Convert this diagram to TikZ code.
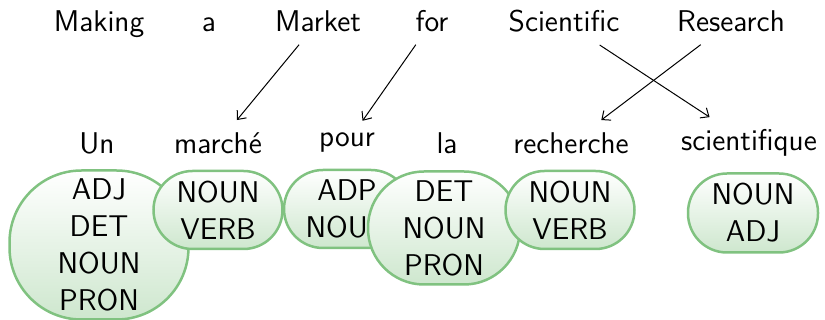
\documentclass[tikz,border=0pt]{standalone}
\usetikzlibrary{arrows.meta}
\definecolor{bubbleborder}{RGB}{128,194,128}
\definecolor{bubblefill}{RGB}{206,231,206}
\begin{document}
\begin{tikzpicture}[x=0.5pt,y=-0.5pt,
  txt/.style={font=\fontsize{15}{18.5}\selectfont\sffamily},
  word/.style={txt, inner sep=6pt},
  topword/.style={word, anchor=base},
  tag/.style={txt, draw=bubbleborder, line width=1.25pt, top color=white,
    bottom color=bubblefill, align=center, inner sep=0pt, rounded corners=#1},
  link/.style={-{Straight Barb[length=3.5pt,width=6pt]}, line width=0.5pt}
]
\useasboundingbox (0,0) rectangle (825,320);

% English words
\node[topword] (Making) at (99,32) {Making};
\node[topword] (a) at (209,32) {a};
\node[topword] (Market) at (318,32) {Market};
\node[topword] (for) at (432,32) {for};
\node[topword] (Scientific) at (564,32) {Scientific};
\node[topword] (Research) at (731,32) {Research};

% French words
\node[word] (Un) at (97,143) {Un};
\node[word] (marche) at (218,143) {marché};
\node[word] (pour) at (347,143) {pour};
\node[word] (la) at (447,143) {la};
\node[word] (recherche) at (571,143) {recherche};
\node[word] (scientifique) at (749,143) {scientifique};

% alignment links
\draw[link] (Market) -- (marche);
\draw[link] (for) -- (pour);
\draw[link] (Scientific) -- (scientifique);
\draw[link] (Research) -- (recherche);

% tag bubbles
\node[tag=36pt, minimum width=89.5pt, minimum height=74.5pt] (t1) at (99,245) {ADJ\\DET\\NOUN\\PRON};
\node[tag=19.5pt, minimum width=64.5pt, minimum height=39pt] (t2) at (218,210) {NOUN\\VERB};
\node[tag=19.5pt, minimum width=63pt, minimum height=39pt] (t3) at (347,209) {ADP\\NOUN};
\node[tag=28pt, minimum width=76pt, minimum height=56.5pt] (t4) at (444,228) {DET\\NOUN\\PRON};
\node[tag=19.5pt, minimum width=64.5pt, minimum height=39pt] (t5) at (570,210) {NOUN\\VERB};
\node[tag=19.5pt, minimum width=65pt, minimum height=39.5pt] (t6) at (753,213) {NOUN\\ADJ};
\end{tikzpicture}
\end{document}
